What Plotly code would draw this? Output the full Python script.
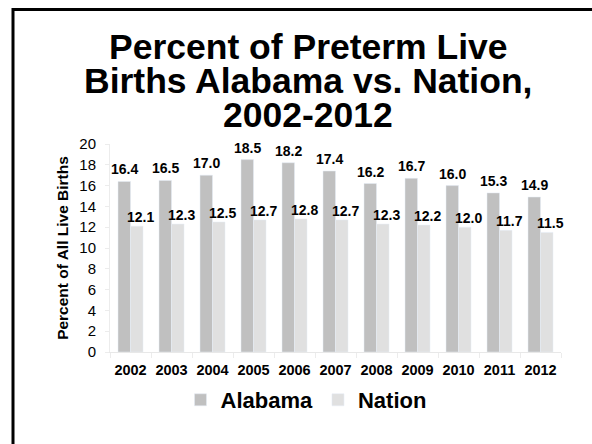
import plotly.graph_objects as go

# Preterm birth rates (% of all live births), 2002-2012
years = ["2002", "2003", "2004", "2005", "2006", "2007", "2008", "2009", "2010", "2011", "2012"]
alabama = [16.4, 16.5, 17.0, 18.5, 18.2, 17.4, 16.2, 16.7, 16.0, 15.3, 14.9]
nation = [12.1, 12.3, 12.5, 12.7, 12.8, 12.7, 12.3, 12.2, 12.0, 11.7, 11.5]

title_lines = ["Percent of Preterm Live", "Births Alabama vs. Nation,", "2002-2012"]
y_title = "Percent of All Live Births"

FONT = "Liberation Sans, Arial, sans-serif"
W, H = 592, 444
ML, MR, MT, MB = 110, 31, 144, 92
PW, PH = W - ML - MR, H - MT - MB


def px_x(p):
    return (p - ML) / PW


def px_y(p):
    return (H - MB - p) / PH


fig = go.Figure()
fig.add_trace(go.Bar(name="<b>Alabama</b>", x=years, y=alabama, marker_color="#c0c0c0"))
fig.add_trace(go.Bar(name="<b>Nation</b>", x=years, y=nation, marker_color="#e0e0e0"))

annotations = []
# value labels above each bar (x given as category index)
for i, (a, n) in enumerate(zip(alabama, nation)):
    annotations.append(dict(x=i, y=a, xref="x", yref="y", text=f"<b>{a:.1f}</b>",
                            showarrow=False, xanchor="center", yanchor="bottom",
                            xshift=-6, yshift=2,
                            font=dict(family=FONT, size=14, color="#000")))
    annotations.append(dict(x=i, y=n, xref="x", yref="y", text=f"<b>{n:.1f}</b>",
                            showarrow=False, xanchor="center", yanchor="bottom",
                            xshift=10, yshift=-1,
                            font=dict(family=FONT, size=14, color="#000")))

# three-line title
for line, base in zip(title_lines, [59, 93, 127]):
    annotations.append(dict(x=px_x(308), y=px_y(base - 12.3), xref="paper", yref="paper",
                            text=f"<b>{line}</b>", showarrow=False,
                            xanchor="center", yanchor="middle",
                            font=dict(family=FONT, size=35.5, color="#000")))

fig.update_layout(
    width=W, height=H,
    margin=dict(l=ML, r=MR, t=MT, b=MB, autoexpand=False),
    paper_bgcolor="white", plot_bgcolor="white",
    barmode="group", bargap=0.39, bargroupgap=0,
    font=dict(family=FONT, color="#000"),
    annotations=annotations,
    showlegend=True,
    legend=dict(orientation="h", x=px_x(306), xanchor="center",
                y=px_y(379), yanchor="top",
                font=dict(family=FONT, size=22, color="#000"),
                itemwidth=30, traceorder="normal"),
    shapes=[dict(type="rect", xref="paper", yref="paper",
                 x0=px_x(13), x1=px_x(620), y0=px_y(470), y1=px_y(9.5),
                 line=dict(color="#000", width=3), fillcolor="rgba(0,0,0,0)", layer="above")],
)

fig.update_xaxes(type="category", range=[-0.5, len(years) - 0.5], tickangle=0,
                 showline=True, linecolor="#e8e8e8", linewidth=1,
                 ticks="outside", tickson="boundaries", ticklen=5, tickcolor="#ececec",
                 ticklabelstandoff=5,
                 tickfont=dict(family=FONT, size=14.5, color="#000"),
                 tickprefix="<b>", ticksuffix="</b>", showgrid=False)
fig.update_yaxes(range=[0, 20], dtick=2, showgrid=False, zeroline=False,
                 showline=True, linecolor="#ececec", linewidth=1,
                 ticks="outside", ticklen=4, tickcolor="#ececec", ticklabelstandoff=6,
                 tickfont=dict(family=FONT, size=15, color="#000"),
                 title=dict(text=f"<b>{y_title}</b>", standoff=6,
                            font=dict(family=FONT, size=15.5, color="#000")))

fig.write_html("out.html")
